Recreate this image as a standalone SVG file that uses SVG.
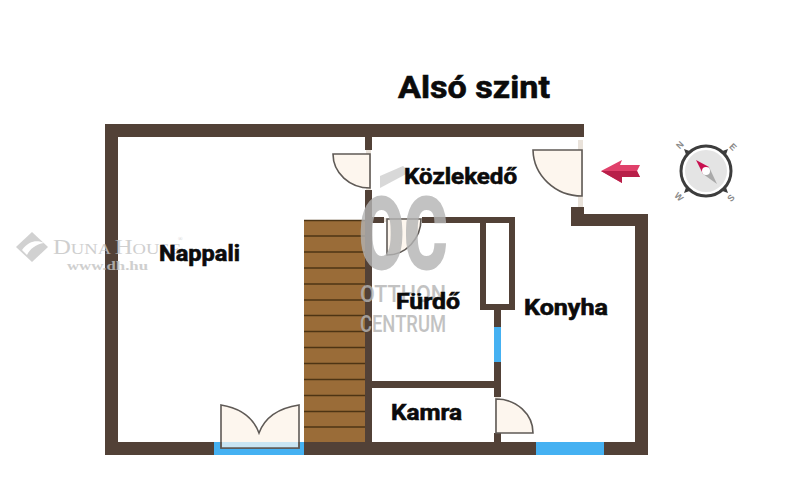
<svg xmlns="http://www.w3.org/2000/svg" width="805" height="500" viewBox="0 0 805 500">
<style>
.w{fill:#524137}
.b{fill:#45b1f2}
.d{fill:#fdf6ee;stroke:#5f5a56;stroke-width:1.6}
.j{fill:#e9e2da}
.t{font-family:Roboto,"Liberation Sans",Arial,sans-serif;font-weight:700;fill:#0b0b0b;font-size:22px;stroke:#0b0b0b;stroke-width:.6}
.s{stroke:#4d3414;stroke-width:1.4}
.g{font-family:Roboto,"Liberation Sans",sans-serif;fill:#b4b4b4;font-size:24px;font-weight:500}
.m{font-family:"Liberation Serif",serif;fill:#c4c4c4}
</style>
<rect width="805" height="500" fill="#fff"/>
<g id="stairs">
<rect x="304" y="220" width="61" height="222" fill="#9a6c38"/>
<path class="s" d="M304 220.500H365M304 236H365M304 252H365M304 268H365M304 284H365M304 300H365M304 315.500H365M304 331.500H365M304 347.500H365M304 363.500H365M304 379.500H365M304 395.500H365M304 411.500H365M304 427H365"/>
</g>
<g id="walls">
<rect class="w" x="105" y="124" width="479" height="13"/>
<rect class="w" x="105" y="124" width="13" height="331"/>
<rect class="w" x="105" y="442" width="543" height="13"/>
<rect class="w" x="635" y="214" width="13" height="241"/>
<rect class="w" x="571" y="214" width="77" height="12"/>
<rect class="w" x="571" y="207" width="13" height="19"/>
<rect class="w" x="365" y="137" width="7" height="13"/>
<rect class="w" x="365" y="190" width="7" height="252"/>
<rect class="w" x="372" y="217" width="12" height="6"/>
<rect class="w" x="422" y="217" width="93" height="6"/>
<rect class="w" x="480" y="217" width="6" height="93"/>
<rect class="w" x="509" y="217" width="6" height="93"/>
<rect class="w" x="480" y="304" width="35" height="6"/>
<rect class="w" x="494" y="310" width="7" height="17"/>
<rect class="w" x="494" y="362" width="7" height="35"/>
<rect class="w" x="494" y="433" width="7" height="9"/>
<rect class="w" x="372" y="381" width="122" height="7"/>
</g>
<g id="windows">
<rect class="b" x="494" y="327" width="7" height="35"/>
<rect class="b" x="536" y="442" width="68" height="13"/>
<rect class="b" x="214" y="442" width="90" height="13"/>
</g>
<g id="door-entrance">
<rect class="j" x="578" y="140" width="5" height="67"/>
<path class="d" d="M582 150L533 150A49 47 0 0 0 582 196Z"/>
</g>
<g id="door-nappali">
<rect class="j" x="366" y="150" width="5" height="40"/>
<path class="d" d="M370 154L333 154A37 34 0 0 0 370 188Z"/>
</g>
<g id="door-furdo">
<rect class="j" x="384" y="218" width="38" height="4"/>
<path class="d" d="M387 219L387 255A34 36 0 0 0 421 219Z"/>
</g>
<g id="door-kamra">
<rect class="j" x="495" y="397" width="5" height="36"/>
<path class="d" d="M496 399A37 34 0 0 1 533 433L496 433Z"/>
</g>
<g id="door-terrace">
<path class="d" d="M221 405C240 408 253 417 259 433C265 417 279 408 299 405V448H221Z"/>
<rect x="222" y="442" width="76" height="6" fill="#c9e5f3"/>
<path d="M221 442V448H299V442" fill="none" stroke="#5f5a56" stroke-width="1.6"/>
</g>
<g id="watermarks" opacity=".8">
<path d="M380 176L403 166L410 172L380 188Z" fill="#cfcfcf"/>
<text class="g" x="359" y="268" style="font-size:98px;font-weight:700;stroke:#b4b4b4;stroke-width:3" textLength="88" lengthAdjust="spacingAndGlyphs">OC</text>
<text class="g" x="360" y="302" textLength="86" lengthAdjust="spacingAndGlyphs">OTTHON</text>
<text class="g" x="360" y="332" textLength="86" lengthAdjust="spacingAndGlyphs">CENTRUM</text>
<path d="M32 232L48 247L32 262L16 247Z" fill="#c6c6c6"/>
<path d="M22 250C29 240 38 240 44 243C36 244 30 249 27 255Z" fill="#fff"/>
<text class="m" x="53" y="254" font-size="20" textLength="128" lengthAdjust="spacingAndGlyphs">D<tspan font-size="15">UNA </tspan>H<tspan font-size="15">OUSE</tspan></text>
<text class="m" x="178" y="241" font-size="6">®</text>
<text class="m" x="67" y="270" font-size="12.500" font-weight="700" textLength="81" lengthAdjust="spacingAndGlyphs">www.dh.hu</text>
</g>
<g id="labels">
<text class="t" x="398" y="98" style="font-size:31px" textLength="152" lengthAdjust="spacingAndGlyphs">Alsó szint</text>
<text class="t" x="159" y="261" textLength="81" lengthAdjust="spacingAndGlyphs">Nappali</text>
<text class="t" x="404" y="184" textLength="113" lengthAdjust="spacingAndGlyphs">Közlekedő</text>
<text class="t" x="396" y="309" textLength="64" lengthAdjust="spacingAndGlyphs">Fürdő</text>
<text class="t" x="524" y="315" textLength="84" lengthAdjust="spacingAndGlyphs">Konyha</text>
<text class="t" x="391" y="420" textLength="71" lengthAdjust="spacingAndGlyphs">Kamra</text>
</g>
<g id="entrance-arrow">
<path d="M601 171L622 160L620 165H640L637 171L640 177H622L622 183Z" fill="#e0406a"/>
<path d="M601 171H637L640 177H622L622 183Z" fill="#b81f49"/>
</g>
<g id="compass">
<path d="M684 149L698 154L689 163ZM728 149L714 154L723 163ZM684 193L698 188L689 179ZM728 193L714 188L723 179Z" fill="#3d3d3d"/>
<circle cx="706" cy="171" r="25" fill="#fff" stroke="#3d3d3d" stroke-width="3"/>
<circle cx="706" cy="171" r="21" fill="#e4e4e4"/>
<path d="M696 160L709 167L703 174Z" fill="#c8104f"/>
<path d="M717 184L709 167L703 174Z" fill="#a9a9a9"/>
<circle cx="706" cy="171" r="4" fill="#fff"/>
<g font-family="Liberation Sans,sans-serif" font-size="9" font-weight="700" fill="#8a8a8a" text-anchor="middle">
<text transform="translate(680 145) rotate(-45)" y="3">N</text>
<text transform="translate(733 147) rotate(45)" y="3">E</text>
<text transform="translate(679 197) rotate(45)" y="3">W</text>
<text transform="translate(731 198) rotate(-45)" y="3">S</text>
</g>
</g>
</svg>
